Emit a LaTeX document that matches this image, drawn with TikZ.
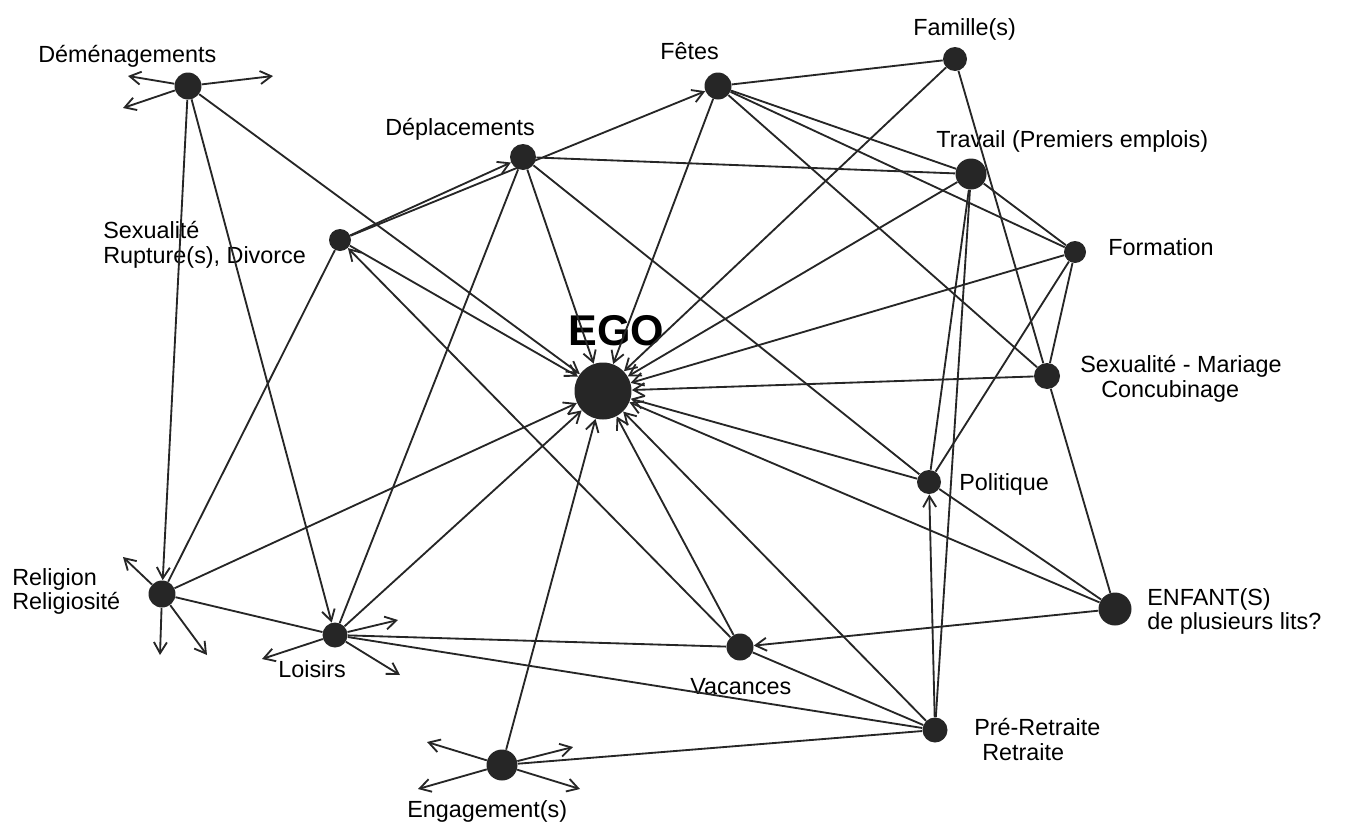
\documentclass[tikz,border=0pt]{standalone}
\usepackage{fontspec}
\setmainfont{Liberation Sans}
\usepackage{tikz}
\usetikzlibrary{arrows.meta}

\begin{document}
\begin{tikzpicture}[
    x=0.02cm, y=-0.02cm,
    font=\fontsize{13.3}{14}\selectfont,
    point/.style={circle, fill=black!85, inner sep=0pt, minimum size=0.54cm},
    petit/.style={point, minimum size=0.44cm},
    gros/.style={point, minimum size=0.62cm},
    lien/.style={black!85, line width=1.05pt},
    fleche/.style={lien, -{Straight Barb[length=2.2mm, width=2.6mm]}},
    etiq/.style={inner sep=0pt, align=left}
  ]
    \useasboundingbox (0,0) rectangle (1347,822);

    % les points
    \node[point] (demen) at (188,86) {};
    \node[point] (fetes) at (718,86) {};
    \node[point, minimum size=0.48cm] (famil) at (955,59) {};
    \node[point, minimum size=0.52cm] (depla) at (523,157) {};
    \node[gros] (trav) at (971,174) {};
    \node[petit] (rupt) at (340,240) {};
    \node[petit] (form) at (1075,252) {};
    \node[point, minimum size=1.14cm] (ego) at (603,391) {};
    \node[point, minimum size=0.52cm] (mariage) at (1047,376) {};
    \node[point, minimum size=0.48cm] (polit) at (929,482) {};
    \node[gros, minimum size=0.66cm] (enfant) at (1115,609) {};
    \node[point] (relig) at (162,594) {};
    \node[point, minimum size=0.5cm] (loisir) at (335,635) {};
    \node[point] (vac) at (740,647) {};
    \node[point, minimum size=0.5cm] (retr) at (935,730) {};
    \node[gros] (engag) at (502,765) {};

    % les textes
    \node[etiq, anchor=base west] (demenT) at (38,62) {Déménagements};
    \node[etiq, anchor=base west] (fetesT) at (660,59) {Fêtes};
    \node[etiq, anchor=base west] (familT) at (913,35) {Famille(s)};
    \node[etiq, anchor=base west] (deplaT) at (385,135) {Déplacements};
    \node[etiq, anchor=base west] (travT) at (936,147) {Travail (Premiers emplois)};
    \node[etiq, anchor=north west] (ruptT) at (103,221) {Sexualité\\Rupture(s), Divorce};
    \node[etiq, anchor=base west] (formT) at (1108,255) {Formation};
    \node[etiq, anchor=base west, font=\fontsize{24.5}{26}\selectfont\bfseries] (egoT) at (568,345) {EGO};
    \node[etiq, anchor=north west] (mariageT) at (1080,355)
      {Sexualité - Mariage\\\hspace*{0.42cm}Concubinage};
    \node[etiq, anchor=base west] (politT) at (959,490) {Politique};
    \node[etiq, anchor=north west] (enfantT) at (1147,588) {ENFANT(S)\\de plusieurs lits?};
    \node[etiq, anchor=north west] (religT) at (12,568) {Religion\\Religiosité};
    \node[etiq, anchor=base west] (loisirT) at (278,677) {Loisirs};
    \node[etiq, anchor=base west] (vacT) at (690,694) {Vacances};
    \node[etiq, anchor=north west] (retrT) at (974,718)
      {Pré-Retraite\\\hspace*{0.16cm}Retraite};
    \node[etiq, anchor=base west] (engagT) at (407,817) {Engagement(s)};

    % bouts libres des fleches
    \coordinate (dm1) at (128,76);
    \coordinate (dm2) at (273,76);
    \coordinate (dm3) at (123,108);
    \coordinate (rl1) at (123,557);
    \coordinate (rl2) at (160,655);
    \coordinate (rl3) at (207,655);
    \coordinate (ls1) at (398,620);
    \coordinate (ls2) at (400,675);
    \coordinate (ls3) at (262,659);
    \coordinate (eg1) at (427,742);
    \coordinate (eg2) at (418,789);
    \coordinate (eg3) at (573,747);
    \coordinate (eg4) at (580,789);

    \draw[fleche] (demen) -- (dm1);
    \draw[fleche] (demen) -- (dm2);
    \draw[fleche] (demen) -- (dm3);
    \draw[fleche] (relig) -- (rl1);
    \draw[fleche] (relig) -- (rl2);
    \draw[fleche] (relig) -- (rl3);
    \draw[fleche] (loisir) -- (ls1);
    \draw[fleche] (loisir) -- (ls2);
    \draw[fleche] (loisir) -- (ls3);
    \draw[fleche] (engag) -- (eg1);
    \draw[fleche] (engag) -- (eg2);
    \draw[fleche] (engag) -- (eg3);
    \draw[fleche] (engag) -- (eg4);

    % vers EGO
    \draw[fleche] (demen) -- (ego);
    \draw[fleche] (rupt) -- (ego);
    \draw[fleche] (depla) -- (ego);
    \draw[fleche] (fetes) -- (ego);
    \draw[fleche] (famil) -- (ego);
    \draw[fleche] (trav) -- (ego);
    \draw[fleche] (form) -- (ego);
    \draw[fleche] (mariage) -- (ego);
    \draw[fleche] (polit) -- (ego);
    \draw[fleche] (enfant) -- (ego);
    \draw[fleche] (retr) -- (ego);
    \draw[fleche] (vac) -- (ego);
    \draw[fleche] (engag) -- (ego);
    \draw[fleche] (loisir) -- (ego);
    \draw[fleche] (relig) -- (ego);

    % autres liens
    \draw[fleche] (demen) -- (relig);
    \draw[fleche] (demen) -- (loisir);
    \draw[lien] (rupt) -- (relig);
    \draw[fleche] (rupt) -- (depla);
    \draw[fleche] (rupt) -- (fetes);
    \draw[fleche] (vac) -- (rupt);
    \draw[lien] (depla) -- (loisir);
    \draw[lien] (depla) -- (trav);
    \draw[lien] (depla) -- (polit);
    \draw[lien] (fetes) -- (famil);
    \draw[lien] (fetes) -- (trav);
    \draw[lien] (fetes) -- (form);
    \draw[lien] (fetes) -- (mariage);
    \draw[lien] (famil) -- (mariage);
    \draw[lien] (trav) -- (form);
    \draw[lien] (trav) -- (polit);
    \draw[lien] (trav) -- (retr);
    \draw[lien] (form) -- (polit);
    \draw[lien] (form) -- (mariage);
    \draw[lien] (mariage) -- (enfant);
    \draw[lien] (polit) -- (enfant);
    \draw[fleche] (retr) -- (polit);
    \draw[fleche] (enfant) -- (vac);
    \draw[lien] (vac) -- (retr);
    \draw[lien] (loisir) -- (vac);
    \draw[lien] (loisir) -- (retr);
    \draw[lien] (relig) -- (loisir);
    \draw[lien] (engag) -- (retr);
\end{tikzpicture}
\end{document}
